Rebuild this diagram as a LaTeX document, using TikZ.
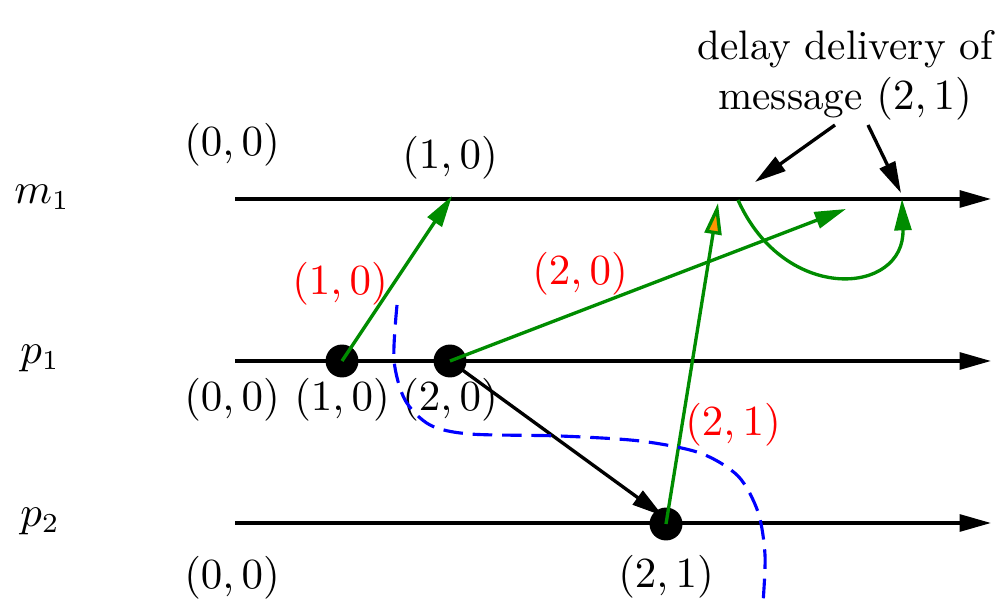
\documentclass[tikz,border=0pt]{standalone}
\usetikzlibrary{arrows.meta,positioning}
\definecolor{msggreen}{RGB}{0,140,0}
\definecolor{headorange}{RGB}{255,150,0}
\tikzset{
  timeline/.style={-{Triangle[length=8pt,width=4.3pt]}, line width=0.85pt},
  msg/.style={-{Triangle[length=8pt,width=4.3pt]}, line width=0.85pt, draw=msggreen,
              fill=msggreen},
  evt/.style={circle, fill=black, minimum size=8.4pt, inner sep=0pt},
  stamp/.style={text=red},
  cut/.style={draw=blue, dashed, dash pattern=on 5pt off 2.5pt, line width=0.8pt}
}

\begin{document}
\begin{tikzpicture}[x=0.255pt, y=-0.255pt,
    every node/.append style={font=\fontsize{10.5}{12.8}\selectfont}]
  \useasboundingbox (0,0) rectangle (997,605);
  % process and memory lines
  \node (lm1) at (42,197) {$m_1$};
  \node (lp1) at (40,358) {$p_1$};
  \node (lp2) at (40,521) {$p_2$};
  \coordinate (m1s) at (235,199); \coordinate (m1e) at (991,199);
  \coordinate (p1s) at (235,361); \coordinate (p1e) at (991,361);
  \coordinate (p2s) at (235,523); \coordinate (p2e) at (991,523);
  \draw[timeline] (m1s) -- (m1e);
  \draw[timeline] (p1s) -- (p1e);
  \draw[timeline] (p2s) -- (p2e);
  \node (z0) at (232,145) {$(0,0)$};
  \node (z1) at (232,400) {$(0,0)$};
  \node (z2) at (232,578) {$(0,0)$};
  \node (v10) at (450,158) {$(1,0)$};
  % events
  \node[evt] (e10) at (342,361) {};
  \node[evt] (e20) at (450,361) {};
  \node[evt] (e21) at (666,524) {};
  \node (l10) at (342,400) {$(1,0)$};
  \node (l20) at (450,400) {$(2,0)$};
  \node (l21) at (666,577) {$(2,1)$};
  % messages
  \coordinate (w10) at (452,196);
  \coordinate (w20) at (846,209);
  \coordinate (w21) at (718,203);
  \draw[timeline] (e20.center) -- (663,516);
  \draw[msg] (e10.center) -- (w10);
  \draw[msg] (e20.center) -- (w20);
  \draw[msg, -{Triangle[length=8pt,width=4.3pt,fill=headorange]}] (e21.center) -- (w21);
  \node[stamp] (s10) at (340,284) {$(1,0)$};
  \node[stamp] (s20) at (580,274) {$(2,0)$};
  \node[stamp] (s21) at (733,425) {$(2,1)$};
  % delayed delivery
  \coordinate (dstart) at (738,200);
  \coordinate (dend) at (902,199);
  \draw[msg, fill=none, -{Triangle[length=8pt,width=4.3pt,fill=msggreen]}]
    (dstart) .. controls (785,305) and (905,295) .. (dend);
  \node[align=center] (note) at (845,75) {delay delivery of\\ message $(2,1)$};
  \coordinate (n1) at (835,125); \coordinate (n2) at (868,125);
  \draw[timeline] (n1) -- (755,182);
  \draw[timeline] (n2) -- (901,193);
  % cut
  \draw[cut] plot[smooth] coordinates {(397,305) (394,360) (405,400) (430,425)
    (470,434) (560,436) (640,441) (700,453) (738,476) (758,512) (765,555) (763,603)};
\end{tikzpicture}
\end{document}
